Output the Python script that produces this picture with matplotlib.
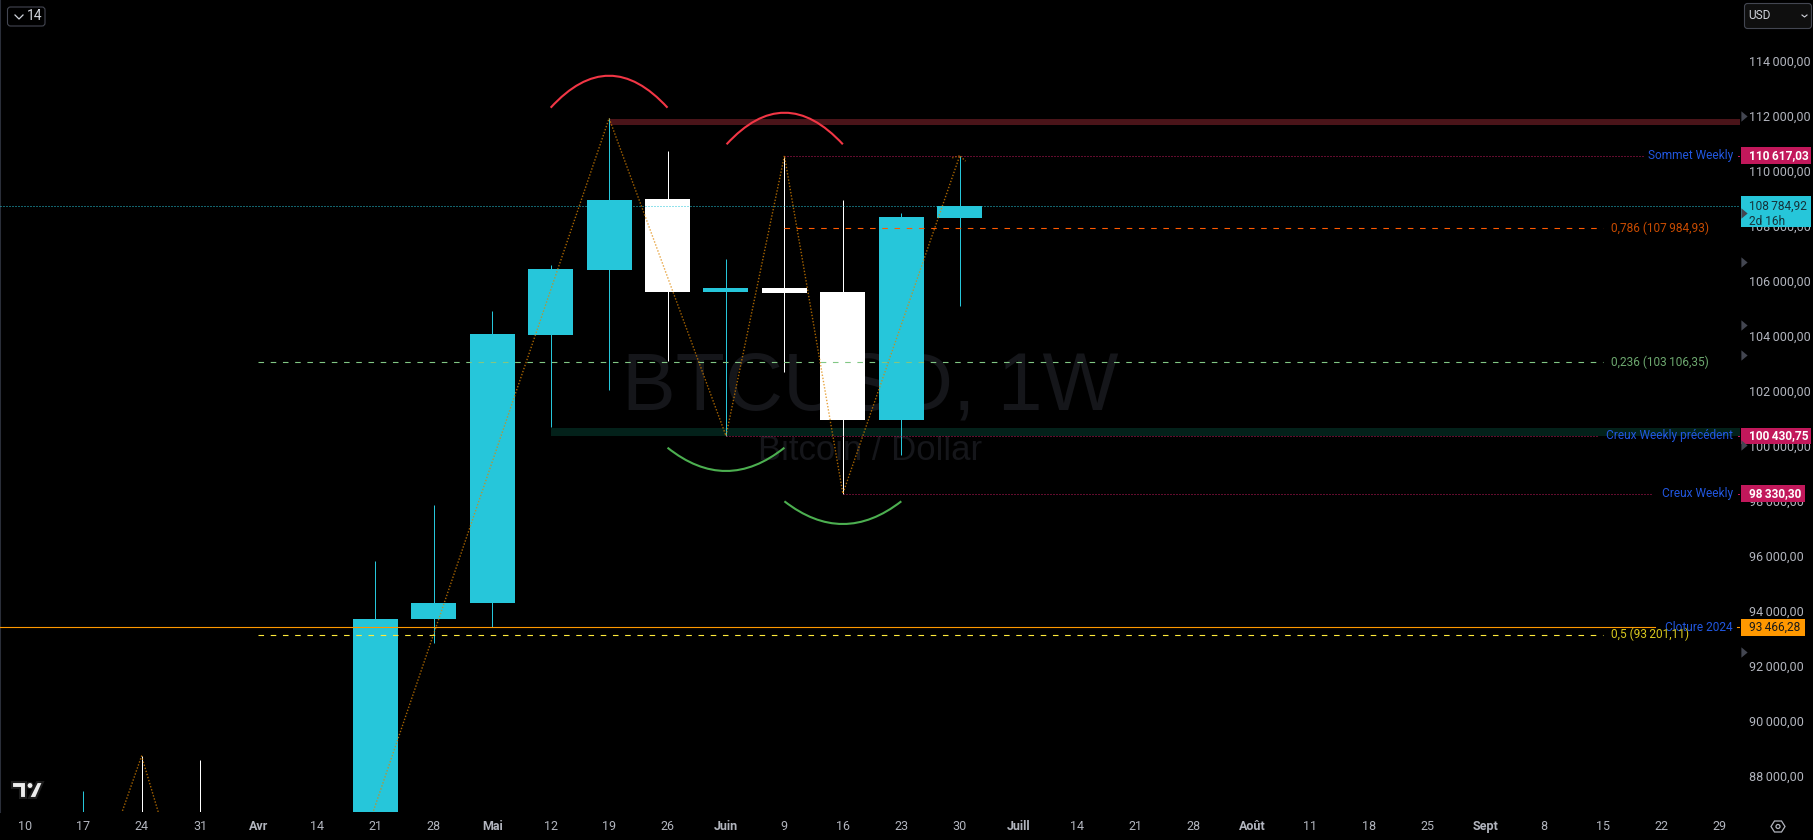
"""BTCUSD weekly candles with zigzag, arcs and key levels, dark TradingView look."""

import matplotlib
matplotlib.use("Agg")
import matplotlib.pyplot as plt
from matplotlib.patches import Circle, FancyBboxPatch, PathPatch, Polygon, Rectangle
from matplotlib.path import Path
from matplotlib.transforms import Affine2D, IdentityTransform, blended_transform_factory

# weekly candles, index counts weeks from 10 March
candle_idx = [1, 2, 3, 6, 7, 8, 9, 10, 11, 12, 13, 14, 15, 16]
opens = [85000, 85500, 85000, 85170, 93771, 94353, 104098, 106462, 109044, 105662, 105807, 105662, 101007, 108353]
closes = [85200, 85000, 84500, 93771, 94353, 104135, 106498, 109007, 105662, 105807, 105625, 101007, 108389, 108784.92]
highs = [87516, 88789, 88643, 95880, 97916, 104971, 106644, 111978, 110789, 106862, 110582, 109007, 108535, 110617.03]
lows = [84000, 84000, 84000, 85000, 92898, 93480, 100764, 102098, 103153, 100430.75, 102753, 98330.30, 99734, 105153]

zigzag_idx = [0, 2, 4, 10, 12, 13, 14, 16, 16.1]
zigzag_val = [76600, 88789, 74500, 111978, 100430.75, 110617.03, 98330.30, 110617.03, 110420]
zigzag_left_tail = [15.87, 110540]

# arcs: first week, top or bottom week, last week, price at the ends, price at the middle
red_arcs = [(9, 10, 11, 112364, 113527), (12.01, 13, 14, 111033, 112182)]
green_arcs = [(11, 12, 13, 100000, 99153), (13, 14, 15, 98051, 97225)]

price_ticks = list(range(88000, 116000, 2000))
week_labels = ["10", "17", "24", "31", "Avr", "14", "21", "28", "Mai", "12", "19", "26", "Juin", "9", "16",
               "23", "30", "Juill", "14", "21", "28", "Août", "11", "18", "25", "Sept", "8", "15", "22", "29"]
month_labels = ["Avr", "Mai", "Juin", "Juill", "Août", "Sept"]

sommet = 110617.03
creux_prec = 100430.75
creux = 98330.30
cloture = 93466.28
last_price = 108784.92
fib_786 = 107984.93
fib_236 = 103106.35
fib_500 = 93201.11

red_band = (111735, 111953)
green_band = (100425, 100716)
marker_prices = [112062, 108535, 106753, 104462, 103371, 100098, 92571]

UP = "#26C6DA"
DOWN = "#FFFFFF"
TICK = "#B2B5BE"
BLUE = "#2157E0"
PINK = "#C2185B"
FONT = "Roboto"
FS = 8.6

# pixel layout of the plot area
PLOT_W, PLOT_H = 1740, 812
X0, DX = 24.7, 58.44
Y_114K, PX_PER_USD = 62.7, 0.0275


def idx(px):
    return (px - X0) / DX


def fr(value):
    """114000 -> 114 000,00 with the thin separator of the chart."""
    whole, dec = f"{value:.2f}".split(".")
    return f"{whole[:-3]}\u2009{whole[-3:]},{dec}"


fig = plt.figure(figsize=(18.13, 8.40), dpi=100, facecolor="black")
ax = fig.add_axes([0, (840 - PLOT_H) / 840, PLOT_W / 1813, PLOT_H / 840], facecolor="black")
px_y = blended_transform_factory(IdentityTransform(), ax.transData)

# watermark
ax.text(0.5, 1 - 388 / PLOT_H, "BTCUSD, 1W", transform=ax.transAxes, ha="center", va="center",
        fontsize=58, color="#15161A", family="Liberation Sans", zorder=0)
ax.text(0.5, 1 - 450 / PLOT_H, "Bitcoin / Dollar", transform=ax.transAxes, ha="center", va="center",
        fontsize=25, color="#15161A", family="Liberation Sans", zorder=0)

# zones
ax.fill_between([10, idx(PLOT_W)], *red_band, color="#4A1419", lw=0, zorder=1)
ax.fill_between([9, idx(PLOT_W)], *green_band, color="#03211A", lw=0, zorder=1)

# candles
colors = [UP if c >= o else DOWN for o, c in zip(opens, closes)]
ax.vlines(candle_idx, lows, highs, colors=colors, lw=0.72, zorder=2)
ax.bar(candle_idx, [c - o for o, c in zip(opens, closes)], bottom=opens, width=45 / DX, color=colors, lw=0, zorder=2)

# key levels
dots = (0, (1, 2))
dash = (0, (5, 6))
ax.plot([13, idx(1643)], [sommet, sommet], color=PINK, lw=0.72, ls=dots, zorder=3)
ax.plot([12, idx(1597)], [creux_prec, creux_prec], color=PINK, lw=0.72, ls=dots, zorder=3)
ax.plot([14, idx(1653)], [creux, creux], color=PINK, lw=0.72, ls=dots, zorder=3)
ax.plot([idx(1738), idx(PLOT_W)], [sommet, sommet], color=PINK, lw=0.72, zorder=3)
ax.plot([idx(1738), idx(PLOT_W)], [creux_prec, creux_prec], color=PINK, lw=0.72, zorder=3)
ax.plot([idx(1738), idx(PLOT_W)], [creux, creux], color=PINK, lw=0.72, zorder=3)
ax.plot([idx(0), idx(PLOT_W)], [last_price, last_price], color=UP, lw=0.72, ls=dots, zorder=3)
ax.plot([13, idx(1603)], [fib_786, fib_786], color="#FF5A00", lw=0.8, ls=dash, zorder=3)
ax.plot([4, idx(1603)], [fib_236, fib_236], color="#81C784", lw=0.8, ls=dash, zorder=3)
ax.plot([4, idx(1603)], [fib_500, fib_500], color="#FFEB3B", lw=0.8, ls=dash, zorder=3)
ax.plot([idx(0), idx(1655)], [cloture, cloture], color="#FF9800", lw=0.8, zorder=3)
ax.plot([idx(1737), idx(PLOT_W)], [cloture, cloture], color="#FF9800", lw=0.8, zorder=3)

# zigzag
ax.plot(zigzag_idx, zigzag_val, color="#E08600", lw=1.0, ls=(0, (1, 1.3)), alpha=0.75, zorder=4)
ax.plot([zigzag_left_tail[0], 16], [zigzag_left_tail[1], sommet], color="#E08600", lw=1.0, ls=(0, (1, 1.3)), alpha=0.6, zorder=4)

# arcs, quadratic curves through the middle point
for arcs, color in ((red_arcs, "#F23645"), (green_arcs, "#4CAF50")):
    for first, mid, last, end_val, mid_val in arcs:
        ctrl = 2 * mid_val - end_val
        arc_path = Path([(first, end_val), (mid, ctrl), (last, end_val)], [Path.MOVETO, Path.CURVE3, Path.CURVE3])
        ax.add_patch(PathPatch(arc_path, fc="none", ec=color, lw=1.5, zorder=5))

# texts next to the levels
for value, label in ((sommet, "Sommet Weekly"), (creux_prec, "Creux Weekly précédent"),
                     (creux, "Creux Weekly"), (cloture, "Cloture 2024")):
    ax.text(1733, value, label, transform=px_y, color=BLUE, ha="right", va="center", fontsize=FS, family=FONT, zorder=6)
for value, num, color in ((fib_786, "0,786", "#C84B00"), (fib_236, "0,236", "#6DA86F"), (fib_500, "0,5", "#D8C81E")):
    ax.text(1611, value, f"{num} ({fr(value)})", transform=px_y, color=color, ha="left", va="center",
            fontsize=FS, family=FONT, zorder=6)

# price axis labels
tag_h = 16.7 / PX_PER_USD
for value, fc, tc, width, weight in ((sommet, PINK, "white", 70, "bold"), (creux_prec, PINK, "white", 70, "bold"),
                                     (creux, PINK, "white", 64, "bold"), (cloture, "#FF9800", "#1A1A1A", 64, "normal")):
    ax.add_patch(Rectangle((1741, value - tag_h / 2), width, tag_h, transform=px_y, fc=fc, lw=0, clip_on=False, zorder=7))
    ax.text(1749, value, fr(value), transform=px_y, color=tc, ha="left", va="center", fontsize=FS,
            fontweight=weight, family=FONT, zorder=8, clip_on=False)
top = last_price + 0.6 * tag_h
ax.add_patch(Rectangle((1741, top - 30.7 / PX_PER_USD), 70, 30.7 / PX_PER_USD, transform=px_y, fc=UP, lw=0,
                       clip_on=False, zorder=7))
ax.text(1749, last_price, fr(last_price), transform=px_y, color="#16323A", va="center", fontsize=FS, family=FONT, zorder=8)
ax.text(1749, last_price - 15.5 / PX_PER_USD, "2d 16h", transform=px_y, color="#16323A", va="center", fontsize=FS,
        family=FONT, zorder=8)

# small arrows on the price axis
arrow = Path([(-0.6, -1), (0.6, 0), (-0.6, 1), (-0.6, -1)], closed=True)
ax.plot([1744] * len(marker_prices), marker_prices, ls="none", marker=arrow, ms=7.5, mfc="#434651", mew=0,
        transform=px_y, clip_on=False, zorder=9)

ax.set_xlim(idx(0), idx(PLOT_W))
ax.set_ylim(114000 - (PLOT_H - Y_114K) / PX_PER_USD, 114000 + Y_114K / PX_PER_USD)
ax.set_xticks(range(len(week_labels)))
ax.set_xticklabels(week_labels)
ax.set_yticks(price_ticks)
ax.set_yticklabels([fr(p) for p in price_ticks])
ax.yaxis.tick_right()
ax.tick_params(axis="both", length=0, colors=TICK, labelsize=FS + 0.4)
ax.tick_params(axis="x", pad=5.5)
ax.tick_params(axis="y", pad=6.8)
for lab in ax.get_xticklabels() + ax.get_yticklabels():
    lab.set_family(FONT)
    if lab.get_text() in month_labels:
        lab.set_fontweight("bold")
# tick labels sit a little above the price line on the chart
for tick in ax.yaxis.get_major_ticks():
    tick.label2.set_transform(tick.label2.get_transform() + Affine2D().translate(0, 1.5))
for side in ("top", "right", "bottom"):
    ax.spines[side].set_visible(False)
ax.spines["left"].set_color("#2A2E39")
ax.spines["left"].set_linewidth(1.5)

# interface chrome in pixel coordinates
ui = fig.add_axes([0, 0, 1, 1], facecolor="none", zorder=10)
ui.set_xlim(0, 1813)
ui.set_ylim(840, 0)
ui.axis("off")

ui.add_patch(FancyBboxPatch((7.5, 7), 37.5, 19, boxstyle="round,pad=0,rounding_size=3", fc="black", ec="#434651", lw=0.8))
ui.plot([15, 19, 23], [15, 19, 15], color="#D1D4DC", lw=0.9)
ui.text(34.5, 16.5, "14", color="#D1D4DC", ha="center", va="center", fontsize=10, family=FONT)

ui.add_patch(FancyBboxPatch((1744.5, 3.5), 67, 25, boxstyle="round,pad=0,rounding_size=3", fc="#0F0F0F", ec="#434651", lw=0.8))
ui.text(1748, 15.5, "USD", color="#D1D4DC", ha="left", va="center", fontsize=FS, family=FONT)
ui.plot([1802, 1804.5, 1807], [15, 17, 15], color="#D1D4DC", lw=0.8)

# TradingView mark
ui.add_patch(Polygon([(12, 782), (26, 782), (26, 798), (20, 798), (20, 788), (12, 788)], fc="#EDEDED", ec="#1C1C1C", lw=1.5))
ui.add_patch(Circle((30, 785.5), 3, fc="#EDEDED", ec="#1C1C1C", lw=0.8))
ui.add_patch(Polygon([(37, 782), (43, 782), (36, 798), (29, 798)], fc="#EDEDED", ec="#1C1C1C", lw=1.5))

# settings hexagon
ui.add_patch(Polygon([(1771, 826.5), (1774.5, 821), (1781.5, 821), (1785, 826.5), (1781.5, 832), (1774.5, 832)],
                     fc="none", ec="#B2B5BE", lw=0.9))
ui.add_patch(Circle((1778, 826.5), 2, fc="none", ec="#B2B5BE", lw=0.9))

fig.savefig("out.png", dpi=100, facecolor="black")
